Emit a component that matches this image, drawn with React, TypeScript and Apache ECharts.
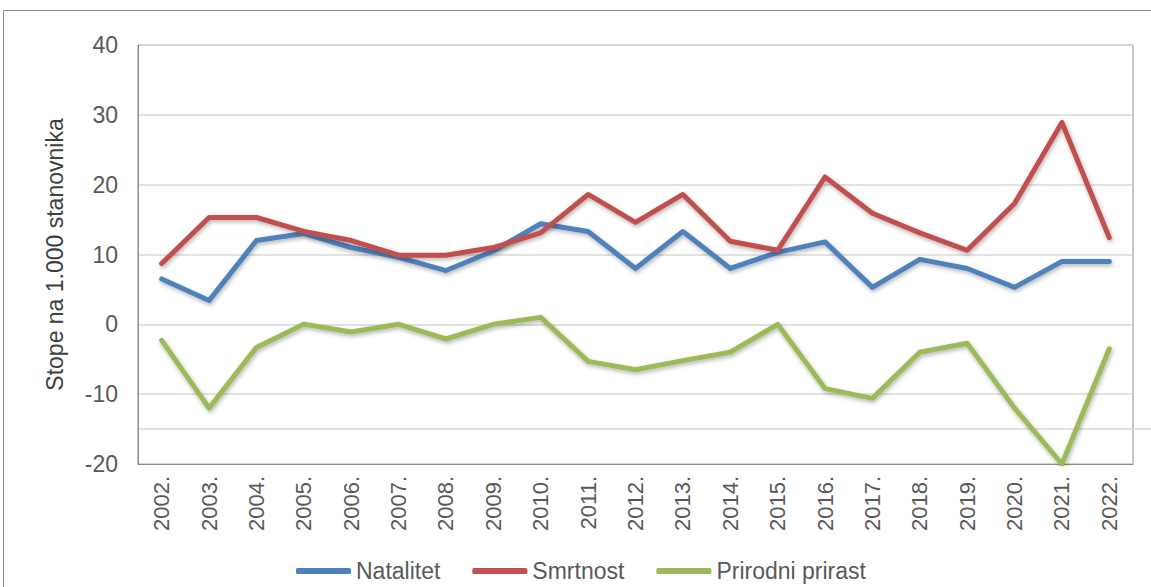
import React, { useEffect, useRef } from "react";
import * as echarts from "echarts";

const years = ["2002.", "2003.", "2004.", "2005.", "2006.", "2007.", "2008.", "2009.", "2010.", "2011.", "2012.", "2013.", "2014.", "2015.", "2016.", "2017.", "2018.", "2019.", "2020.", "2021.", "2022."];
const natalitet = [6.5, 3.4, 12.0, 13.0, 11.0, 9.6, 7.7, 10.5, 14.4, 13.3, 8.0, 13.3, 8.0, 10.3, 11.8, 5.3, 9.3, 8.0, 5.3, 9.0, 9.0];
const smrtnost = [8.7, 15.3, 15.3, 13.3, 12.0, 9.9, 9.9, 11.0, 13.1, 18.6, 14.6, 18.6, 11.9, 10.6, 21.1, 15.9, 13.1, 10.6, 17.3, 28.9, 12.4];
const prirast = [-2.3, -12.0, -3.3, 0.0, -1.1, 0.0, -2.1, 0.0, 1.0, -5.3, -6.5, -5.2, -4.0, 0.0, -9.2, -10.6, -4.0, -2.7, -12.0, -20.0, -3.5];
const seriesNames = ["Natalitet", "Smrtnost", "Prirodni prirast"];
const colors = ["#4F81BD", "#C0504D", "#9BBB59"];
const yTitle = "Stope na 1.000 stanovnika";

export default function App() {
  const ref = useRef<HTMLDivElement>(null);
  useEffect(() => {
    document.body.style.margin = "0";
    const chart = echarts.init(ref.current!, null, { renderer: "svg" });
    const font = "'Liberation Sans', Arial, sans-serif";
    const data = [natalitet, smrtnost, prirast];
    chart.setOption({
      animation: false,
      backgroundColor: "#ffffff",
      textStyle: { fontFamily: font },
      grid: {
        left: 138,
        right: 18,
        top: 45,
        bottom: 123,
        show: true,
        borderColor: "#8c8c8c",
        borderWidth: 1,
      },
      legend: {
        data: seriesNames,
        left: 296,
        top: 559,
        padding: 0,
        icon: "roundRect",
        itemWidth: 55,
        itemHeight: 6,
        itemGap: 32,
        textStyle: { fontSize: 23, color: "#595959", fontFamily: font, lineHeight: 24 },
      },
      xAxis: {
        type: "category",
        data: years,
        boundaryGap: true,
        axisLine: { show: true, onZero: false, lineStyle: { color: "#8c8c8c", width: 1 } },
        axisTick: { show: false },
        axisLabel: { rotate: 90, fontSize: 22, color: "#595959", margin: 12, interval: 0 },
      },
      yAxis: {
        type: "value",
        min: -20,
        max: 40,
        interval: 10,
        name: yTitle,
        nameLocation: "middle",
        nameGap: 72,
        nameTextStyle: { fontSize: 23, color: "#404040" },
        axisLine: { show: true, lineStyle: { color: "#8c8c8c" } },
        axisTick: { show: false },
        axisLabel: { fontSize: 23, color: "#595959", margin: 20 },
        splitLine: { lineStyle: { color: "#d9d9d9", width: 1.5 } },
      },
      graphic: [
        {
          type: "rect",
          shape: { x: 3.5, y: 10.5, width: 1200, height: 700 },
          style: { fill: "none", stroke: "#8c8c8c", lineWidth: 1 },
          silent: true,
        },
        {
          type: "line",
          shape: { x1: 138, y1: 429, x2: 1151, y2: 429 },
          style: { stroke: "#d9d9d9", lineWidth: 1.5 },
          silent: true,
        },
      ],
      series: seriesNames.map((name, i) => ({
        name,
        type: "line",
        data: data[i],
        symbol: "none",
        color: colors[i],
        lineStyle: {
          width: 5,
          color: colors[i],
          cap: "round",
          join: "round",
          shadowColor: "rgba(0,0,0,0.3)",
          shadowBlur: 4,
          shadowOffsetY: 2,
          shadowOffsetX: 1,
        },
      })),
    });
    return () => chart.dispose();
  }, []);
  return <div ref={ref} style={{ width: 1151, height: 587 }} />;
}
